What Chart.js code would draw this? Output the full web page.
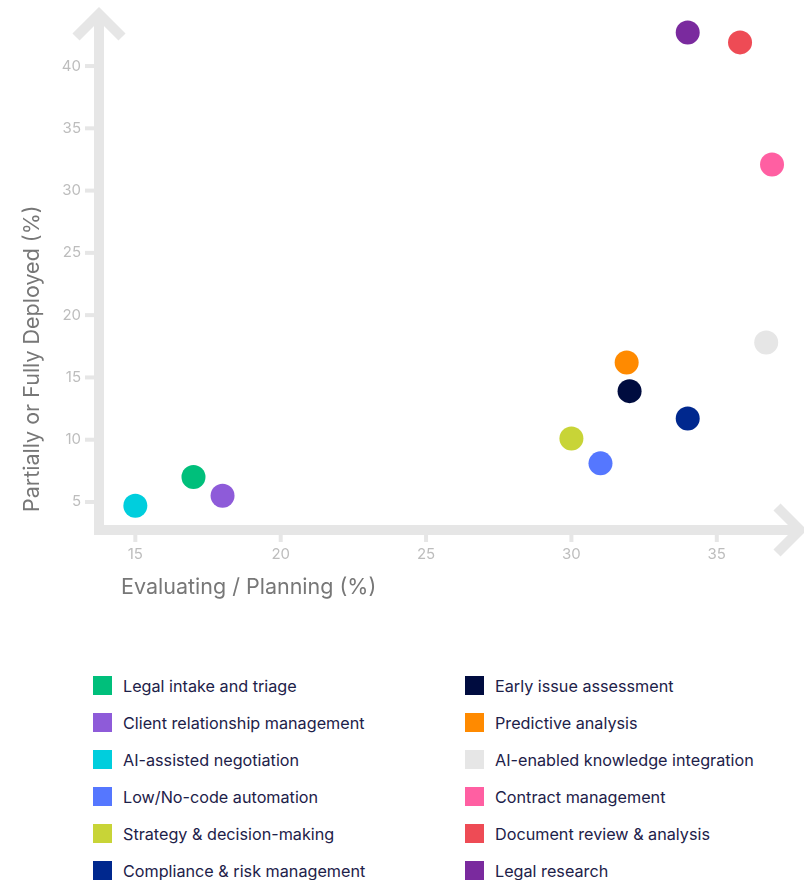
<!DOCTYPE html>
<html>
<head>
<meta charset="utf-8">
<script src="https://cdn.jsdelivr.net/npm/chart.js@4"></script>
<style>
  html, body { margin: 0; padding: 0; background: #fff; }
  body { width: 804px; height: 880px; position: relative; overflow: hidden; font-family: Inter, "Noto Sans", sans-serif; }
  #chartBox { position: absolute; left: 0; top: 0; width: 804px; height: 640px; }
  #legend { position: absolute; left: 93px; top: 667px; display: grid; grid-template-columns: 372px 340px; grid-auto-flow: column; grid-template-rows: repeat(6, 37px); }
  .item { display: flex; align-items: center; font-size: 16.2px; color: #1d2149; white-space: nowrap; }
  .swatch { width: 19px; height: 19px; margin-right: 11px; flex: none; }
</style>
</head>
<body>
<div id="chartBox"><canvas id="adoptionChart" width="804" height="640"></canvas></div>
<div id="legend"></div>
<script>
// Use cases and their two survey shares
const categories = [
  'Legal intake and triage',
  'Client relationship management',
  'AI-assisted negotiation',
  'Low/No-code automation',
  'Strategy & decision-making',
  'Compliance & risk management',
  'Early issue assessment',
  'Predictive analysis',
  'AI-enabled knowledge integration',
  'Contract management',
  'Document review & analysis',
  'Legal research'
];
const evaluating = [17, 18, 15, 31, 30, 34, 32, 31.9, 36.7, 36.9, 35.8, 34];
const deployed = [7, 5.5, 4.7, 8.1, 10.1, 11.7, 13.9, 16.2, 17.8, 32.1, 41.9, 42.7];
const colors = [
  '#00bf7b', '#8e5bd9', '#00cedd', '#5577ff', '#c8d437', '#00288e',
  '#000c3f', '#ff8a00', '#e6e6e6', '#ff5fa2', '#ee4b55', '#7a2a9e'
];
const xTicks = [15, 20, 25, 30, 35];
const yTicks = [5, 10, 15, 20, 25, 30, 35, 40];

const axisColor = '#e6e6e6';
const tickLabelColor = '#bdbdbd';
const titleColor = '#777777';

// arrow axes, tick marks and titles drawn off the hidden scales
const arrowAxes = {
  id: 'arrowAxes',
  beforeDatasetsDraw(chart) {
    const { ctx, chartArea, scales } = chart;
    const x = scales.x, y = scales.y;
    const left = chartArea.left, bottom = chartArea.bottom;
    ctx.save();
    ctx.strokeStyle = axisColor;
    ctx.lineWidth = 10;
    ctx.lineCap = 'butt';
    ctx.lineJoin = 'miter';

    // y axis + arrow head
    ctx.beginPath();
    ctx.moveTo(left, bottom + 5);
    ctx.lineTo(left, chartArea.top + 6);
    ctx.stroke();
    ctx.beginPath();
    ctx.moveTo(left - 23, chartArea.top + 27);
    ctx.lineTo(left, chartArea.top + 4);
    ctx.lineTo(left + 23, chartArea.top + 27);
    ctx.stroke();

    // x axis + arrow head
    ctx.beginPath();
    ctx.moveTo(left - 5, bottom);
    ctx.lineTo(chartArea.right - 6, bottom);
    ctx.stroke();
    ctx.beginPath();
    ctx.moveTo(chartArea.right - 27, bottom - 23);
    ctx.lineTo(chartArea.right - 4, bottom);
    ctx.lineTo(chartArea.right - 27, bottom + 23);
    ctx.stroke();

    // tick marks
    ctx.lineWidth = 4;
    yTicks.forEach(v => {
      const py = y.getPixelForValue(v);
      ctx.beginPath();
      ctx.moveTo(left - 14, py);
      ctx.lineTo(left - 5, py);
      ctx.stroke();
    });
    xTicks.forEach(v => {
      const px = x.getPixelForValue(v);
      ctx.beginPath();
      ctx.moveTo(px, bottom + 5);
      ctx.lineTo(px, bottom + 12);
      ctx.stroke();
    });

    // tick labels
    ctx.fillStyle = tickLabelColor;
    ctx.font = '15px Inter';
    ctx.textAlign = 'right';
    ctx.textBaseline = 'middle';
    yTicks.forEach(v => ctx.fillText(String(v), left - 18, y.getPixelForValue(v)));
    ctx.textAlign = 'center';
    xTicks.forEach(v => ctx.fillText(String(v), x.getPixelForValue(v), bottom + 24));

    // axis titles
    ctx.fillStyle = titleColor;
    ctx.font = '21.5px Inter';
    ctx.textAlign = 'left';
    ctx.fillText('Evaluating / Planning (%)', left + 22, bottom + 58);
    ctx.translate(left - 66, bottom - 18);
    ctx.rotate(-Math.PI / 2);
    ctx.fillText('Partially or Fully Deployed (%)', 0, 0);
    ctx.restore();
  }
};

const datasets = categories.map((name, i) => ({
  label: name,
  data: [{ x: evaluating[i], y: deployed[i] }],
  backgroundColor: colors[i],
  borderColor: colors[i],
  borderWidth: 0,
  pointRadius: 12,
  pointHoverRadius: 12
}));

new Chart(document.getElementById('adoptionChart'), {
  type: 'scatter',
  data: { datasets },
  options: {
    responsive: false,
    animation: false,
    layout: { autoPadding: false, padding: { left: 99, right: 0, top: 10, bottom: 110 } },
    plugins: { legend: { display: false }, tooltip: { enabled: false } },
    scales: {
      x: { display: false, min: 13.75, max: 38 },
      y: { display: false, min: 2.75, max: 44.5 }
    }
  },
  plugins: [arrowAxes]
});

// legend: two columns of six
const legend = document.getElementById('legend');
categories.forEach((name, i) => {
  const item = document.createElement('div');
  item.className = 'item';
  const sw = document.createElement('span');
  sw.className = 'swatch';
  sw.style.background = colors[i];
  item.appendChild(sw);
  item.appendChild(document.createTextNode(name));
  legend.appendChild(item);
});
</script>
</body>
</html>
